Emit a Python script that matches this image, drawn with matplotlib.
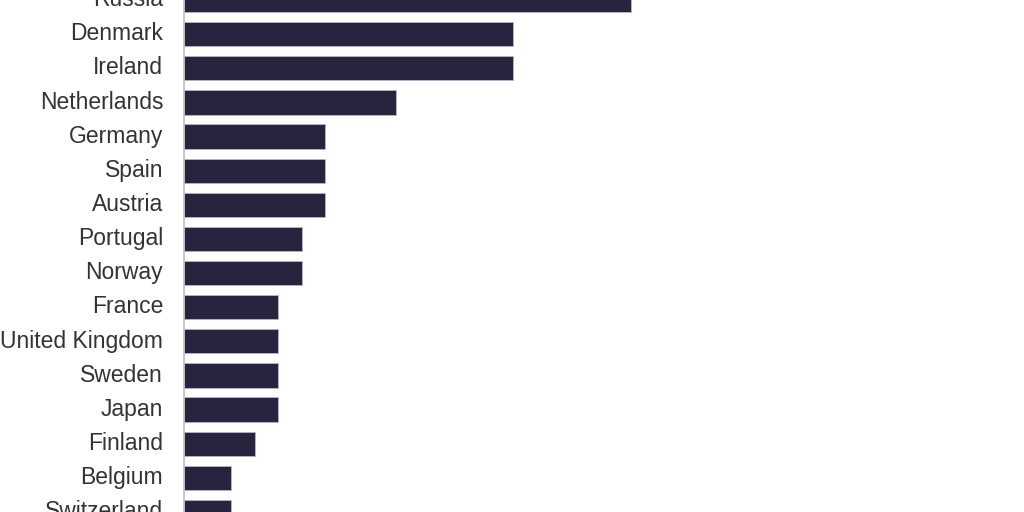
import matplotlib.pyplot as plt
from matplotlib.transforms import ScaledTranslation

# Data (top to bottom)
countries = ['Russia', 'Denmark', 'Ireland', 'Netherlands', 'Germany', 'Spain',
             'Austria', 'Portugal', 'Norway', 'France', 'United Kingdom', 'Sweden',
             'Japan', 'Finland', 'Belgium', 'Switzerland']
values = [19, 14, 14, 9, 6, 6, 6, 5, 5, 4, 4, 4, 4, 3, 2, 2]

bar_color = '#29233f'

fig = plt.figure(figsize=(10.24, 5.12), dpi=100)
ax = fig.add_axes([184 / 1024, 0, 1 - 184 / 1024, 1])

pos = list(range(len(countries)))
ax.barh(pos, values, height=0.71, color=bar_color, edgecolor='#b8b6c4', linewidth=0.6)

# the view is cropped: Russia cut at the top, Switzerland at the bottom
ax.set_ylim(14.95, 0.09)
ax.set_xlim(0, 840 / 23.5)

ax.set_yticks(pos)
ax.set_yticklabels(countries, fontsize=16.5, color='#333333', family='Liberation Sans')
ax.tick_params(axis='y', length=0, pad=15)
for lab in ax.get_yticklabels():
    lab.set_transform(lab.get_transform() + ScaledTranslation(0, 2 / 72, fig.dpi_scale_trans))
ax.set_xticks([])

for s in ['top', 'right', 'bottom']:
    ax.spines[s].set_visible(False)
ax.spines['left'].set_color('#bdbdbd')
ax.spines['left'].set_linewidth(1.2)

fig.savefig('out.png', dpi=100)
